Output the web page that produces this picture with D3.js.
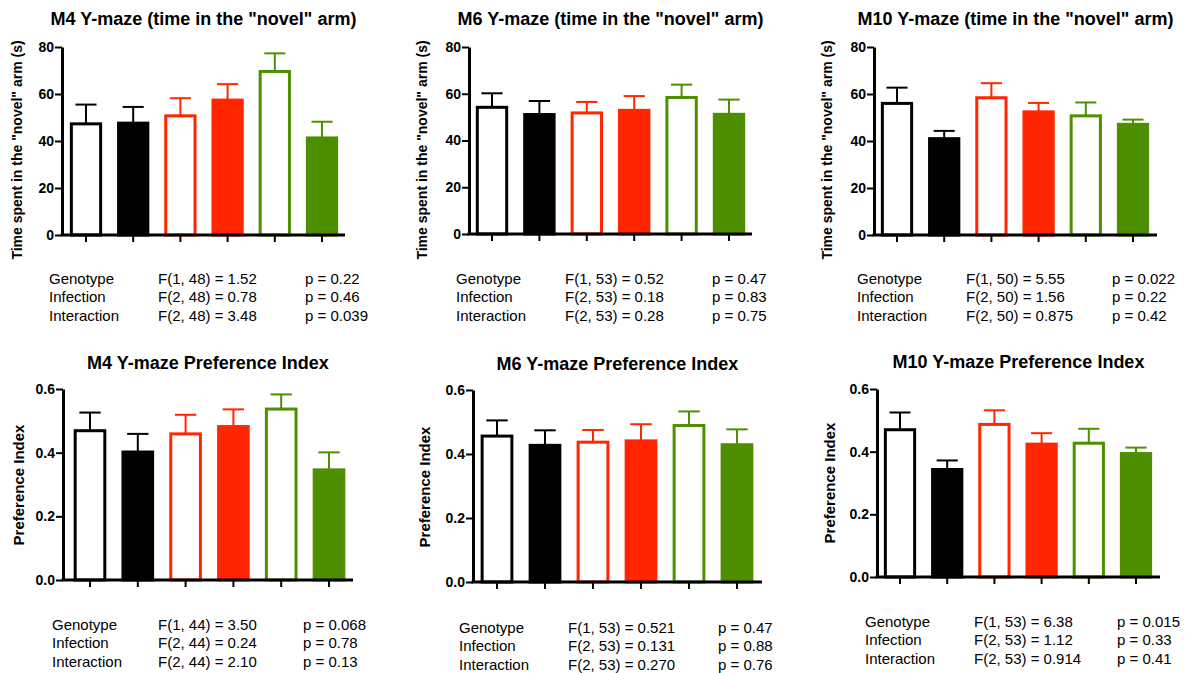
<!DOCTYPE html>
<html>
<head>
<meta charset="utf-8">
<script src="https://cdn.jsdelivr.net/npm/d3@7"></script>
<style>
  body { margin: 0; background: #fff; }
  svg { font-family: "Liberation Sans", Arial, Helvetica, sans-serif; }
</style>
</head>
<body>
<div id="wrapper"></div>
<script>
// groups (genotype x infection), in plotting order
const groups = ["WT control", "KO control", "WT infection A", "KO infection A", "WT infection B", "KO infection B"]

// time in the "novel" arm (s): means and SEM
const timeM4 = [47.3, 47.6, 50.7, 57.4, 69.6, 41.3]
const timeM4Err = [8.2, 6.9, 7.5, 6.8, 7.7, 6.9]
const timeM6 = [54.2, 51.1, 51.8, 52.9, 58.4, 51.2]
const timeM6Err = [6.0, 5.8, 4.7, 6.1, 5.5, 6.3]
const timeM10 = [56.0, 41.0, 58.4, 52.4, 50.7, 47.1]
const timeM10Err = [6.7, 3.3, 6.2, 3.8, 5.7, 2.0]

// preference index: means and SEM
const prefM4 = [0.469, 0.402, 0.459, 0.482, 0.537, 0.346]
const prefM4Err = [0.057, 0.057, 0.060, 0.054, 0.046, 0.055]
const prefM6 = [0.456, 0.427, 0.437, 0.441, 0.489, 0.429]
const prefM6Err = [0.049, 0.047, 0.038, 0.052, 0.044, 0.048]
const prefM10 = [0.470, 0.343, 0.487, 0.424, 0.427, 0.394]
const prefM10Err = [0.055, 0.029, 0.045, 0.035, 0.046, 0.019]

// axis ticks
const timeTicks = [0, 20, 40, 60, 80]
const prefTicks = [0, 0.2, 0.4, 0.6]

// two-way ANOVA results
const effects = ["Genotype", "Infection", "Interaction"]
const timeM4F = ["F(1, 48) = 1.52", "F(2, 48) = 0.78", "F(2, 48) = 3.48"]
const timeM4P = ["p = 0.22", "p = 0.46", "p = 0.039"]
const timeM6F = ["F(1, 53) = 0.52", "F(2, 53) = 0.18", "F(2, 53) = 0.28"]
const timeM6P = ["p = 0.47", "p = 0.83", "p = 0.75"]
const timeM10F = ["F(1, 50) = 5.55", "F(2, 50) = 1.56", "F(2, 50) = 0.875"]
const timeM10P = ["p = 0.022", "p = 0.22", "p = 0.42"]
const prefM4F = ["F(1, 44) = 3.50", "F(2, 44) = 0.24", "F(2, 44) = 2.10"]
const prefM4P = ["p = 0.068", "p = 0.78", "p = 0.13"]
const prefM6F = ["F(1, 53) = 0.521", "F(2, 53) = 0.131", "F(2, 53) = 0.270"]
const prefM6P = ["p = 0.47", "p = 0.88", "p = 0.76"]
const prefM10F = ["F(1, 53) = 6.38", "F(2, 53) = 1.12", "F(2, 53) = 0.914"]
const prefM10P = ["p = 0.015", "p = 0.33", "p = 0.41"]

// bar styles per group
const red = "#ff2600"
const green = "#4e8f00"
const fills = ["#fff", "#000", "#fff", red, "#fff", green]
const strokes = ["#000", "#000", red, red, green, green]

const timeLabel = 'Time spent in the "novel" arm (s)'
const prefLabel = "Preference Index"

// panel layout
const panels = [
  { title: 'M4 Y-maze (time in the "novel" arm)', mean: timeM4, err: timeM4Err, ticks: timeTicks, yLabel: timeLabel, F: timeM4F, P: timeM4P,
    axisX: 62, axisEnd: 345, first: 86, last: 322, top: 47, bottom: 235, titleY: 25, labelX: 22, labelSize: 14, labelY: 150,
    statX: [49, 158, 305], statY: 284 },
  { title: 'M6 Y-maze (time in the "novel" arm)', mean: timeM6, err: timeM6Err, ticks: timeTicks, yLabel: timeLabel, F: timeM6F, P: timeM6P,
    axisX: 469, axisEnd: 752, first: 492, last: 729, top: 47, bottom: 234, titleY: 25, labelX: 427, labelSize: 14, labelY: 150,
    statX: [456, 565, 712], statY: 284 },
  { title: 'M10 Y-maze (time in the "novel" arm)', mean: timeM10, err: timeM10Err, ticks: timeTicks, yLabel: timeLabel, F: timeM10F, P: timeM10P,
    axisX: 874, axisEnd: 1157, first: 897, last: 1133, top: 47, bottom: 235, titleY: 25, labelX: 832, labelSize: 14, labelY: 150,
    statX: [857, 966, 1112], statY: 284 },
  { title: "M4 Y-maze Preference Index", mean: prefM4, err: prefM4Err, ticks: prefTicks, yLabel: prefLabel, F: prefM4F, P: prefM4P,
    axisX: 63, axisEnd: 353, first: 90, last: 329, top: 389, bottom: 580, titleY: 369, labelX: 24, labelSize: 15, labelY: 485,
    statX: [52, 158, 303], statY: 630 },
  { title: "M6 Y-maze Preference Index", mean: prefM6, err: prefM6Err, ticks: prefTicks, yLabel: prefLabel, F: prefM6F, P: prefM6P,
    axisX: 473, axisEnd: 762, first: 497, last: 737, top: 390, bottom: 582, titleY: 370, labelX: 430, labelSize: 15, labelY: 487,
    statX: [459, 568, 718], statY: 633 },
  { title: "M10 Y-maze Preference Index", mean: prefM10, err: prefM10Err, ticks: prefTicks, yLabel: prefLabel, F: prefM10F, P: prefM10P,
    axisX: 877, axisEnd: 1160, first: 900, last: 1136, top: 389, bottom: 577, titleY: 368, labelX: 835, labelSize: 15, labelY: 483,
    statX: [865, 974, 1117], statY: 627 },
]

const width = 1189
const height = 673

const svg = d3.select("#wrapper")
  .append("svg")
    .attr("width", width)
    .attr("height", height)

panels.forEach(p => {
  const g = svg.append("g")
  const rows = groups.map((name, i) => ({ name, i, mean: p.mean[i], err: p.err[i] }))

  // scales
  const step = (p.last - p.first) / (groups.length - 1)
  const xScale = d3.scaleBand()
    .domain(groups)
    .range([p.first - step / 2, p.last + step / 2])
    .paddingInner(0.38)
    .paddingOuter(0.19)

  const yScale = d3.scaleLinear()
    .domain([0, d3.max(p.ticks)])
    .range([p.bottom, p.top])

  const cx = d => xScale(d.name) + xScale.bandwidth() / 2
  const capW = xScale.bandwidth() * 0.72

  // error bars (upper half only)
  g.selectAll(".err")
    .data(rows)
    .join("line")
      .attr("x1", cx)
      .attr("x2", cx)
      .attr("y1", d => yScale(d.mean))
      .attr("y2", d => yScale(d.mean + d.err))
      .attr("stroke", d => strokes[d.i])
      .attr("stroke-width", 2)
  g.selectAll(".cap")
    .data(rows)
    .join("line")
      .attr("x1", d => cx(d) - capW / 2)
      .attr("x2", d => cx(d) + capW / 2)
      .attr("y1", d => yScale(d.mean + d.err))
      .attr("y2", d => yScale(d.mean + d.err))
      .attr("stroke", d => strokes[d.i])
      .attr("stroke-width", 2)

  // bars
  g.selectAll("rect")
    .data(rows)
    .join("rect")
      .attr("x", d => xScale(d.name))
      .attr("width", xScale.bandwidth())
      .attr("y", d => yScale(d.mean))
      .attr("height", d => yScale(0) - yScale(d.mean))
      .attr("fill", d => fills[d.i])
      .attr("stroke", d => strokes[d.i])
      .attr("stroke-width", 3)

  // y axis
  const yAxis = g.append("g")
    .attr("transform", `translate(${p.axisX},0)`)
    .call(d3.axisLeft(yScale)
      .tickValues(p.ticks)
      .tickSize(7)
      .tickSizeOuter(0)
      .tickPadding(1)
      .tickFormat(p.ticks === prefTicks ? d3.format(".1f") : d3.format("d")))
  yAxis.select(".domain").attr("stroke-width", 3)
  yAxis.selectAll(".tick line").attr("stroke-width", 2)
  yAxis.selectAll("text")
    .attr("font-size", 14)
    .attr("font-weight", "bold")
    .attr("font-family", '"Liberation Sans", Arial, sans-serif')
    .attr("fill", "#000")

  // x axis: baseline from the y axis, ticks at group centres
  const xAxis = g.append("g")
    .attr("transform", `translate(0,${yScale(0)})`)
    .call(d3.axisBottom(xScale).tickSize(7).tickSizeOuter(0).tickFormat(""))
  xAxis.select(".domain").remove()
  xAxis.selectAll(".tick line").attr("stroke-width", 2)
  xAxis.append("line")
    .attr("x1", p.axisX - 1.5)
    .attr("x2", p.axisEnd)
    .attr("stroke", "#000")
    .attr("stroke-width", 3)

  // title
  g.append("text")
    .attr("x", (p.axisX + p.axisEnd) / 2)
    .attr("y", p.titleY)
    .attr("text-anchor", "middle")
    .attr("font-size", 18)
    .attr("font-weight", "bold")
    .text(p.title)

  // y label
  g.append("text")
    .attr("transform", `translate(${p.labelX},${p.labelY}) rotate(-90)`)
    .attr("text-anchor", "middle")
    .attr("font-size", p.labelSize)
    .attr("font-weight", "bold")
    .text(p.yLabel)

  // statistics table
  const stats = g.append("g").attr("font-size", 15)
  effects.forEach((e, i) => {
    const y = p.statY + i * 18.3
    stats.append("text").attr("x", p.statX[0]).attr("y", y).text(e)
    stats.append("text").attr("x", p.statX[1]).attr("y", y).text(p.F[i])
    stats.append("text").attr("x", p.statX[2]).attr("y", y).text(p.P[i])
  })
})
</script>
</body>
</html>
